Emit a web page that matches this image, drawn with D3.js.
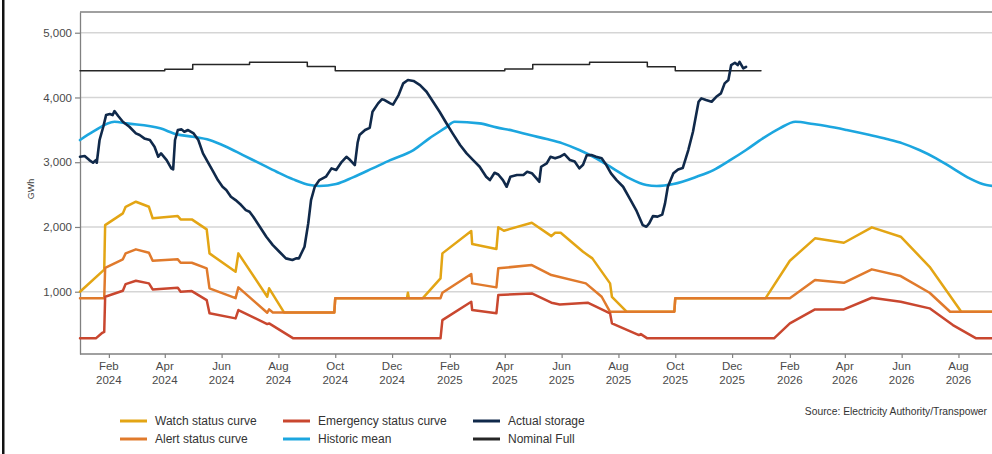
<!DOCTYPE html>
<html><head><meta charset="utf-8">
<script src="https://cdn.jsdelivr.net/npm/d3@7"></script>
<style>
html,body{margin:0;padding:0;background:#fff;overflow:hidden;}
svg{display:block;font-family:"Liberation Sans",Arial,Helvetica,sans-serif;}
</style></head><body>
<svg id="chart" width="992" height="454"></svg>
<script>
// ---------------- DATA ----------------
const yTickValues = [1000, 2000, 3000, 4000, 5000];
const xTickLabels = ["Feb 2024","Apr 2024","Jun 2024","Aug 2024","Oct 2024","Dec 2024","Feb 2025","Apr 2025","Jun 2025","Aug 2025","Oct 2025","Dec 2025","Feb 2026","Apr 2026","Jun 2026","Aug 2026"];
const seriesNames = ["Watch status curve","Alert status curve","Emergency status curve","Historic mean","Actual storage","Nominal Full"];

const watchCurve = [
["2024-01-01",1000],["2024-01-27",1340],["2024-01-28",2029],["2024-02-16",2210],["2024-02-19",2312],["2024-03-01",2390],
["2024-03-15",2312],["2024-03-19",2133],["2024-04-15",2168],["2024-04-18",2117],["2024-04-30",2117],["2024-05-16",1963],
["2024-05-19",1592],["2024-06-16",1308],["2024-06-19",1592],["2024-07-20",922],["2024-07-22",1052],["2024-08-07",680],
["2024-09-30",680],["2024-10-01",900],["2024-12-17",900],["2024-12-18",984],["2024-12-19",900],["2025-01-03",900],
["2025-01-22",1206],["2025-01-24",1592],["2025-02-24",1937],["2025-02-25",1736],["2025-03-23",1659],["2025-03-25",1994],
["2025-03-31",1942],["2025-04-30",2065],["2025-05-21",1859],["2025-05-25",1911],["2025-05-31",1911],["2025-06-24",1617],
["2025-07-04",1515],["2025-07-23",1129],["2025-07-25",922],["2025-08-10",690],["2025-09-30",690],["2025-10-01",900],
["2026-01-06",900],["2026-02-01",1478],["2026-02-28",1824],["2026-03-31",1756],["2026-04-30",1994],["2026-05-31",1849],
["2026-07-01",1385],["2026-08-04",690],["2026-10-01",690]
];
const alertCurve = [
["2024-01-01",900],["2024-01-27",900],["2024-01-28",1370],["2024-02-16",1500],["2024-02-19",1592],["2024-03-01",1654],
["2024-03-15",1602],["2024-03-19",1478],["2024-04-15",1500],["2024-04-18",1447],["2024-04-30",1447],["2024-05-16",1361],
["2024-05-19",1052],["2024-06-16",900],["2024-06-19",1067],["2024-07-20",675],["2024-07-22",727],["2024-07-26",680],
["2024-09-30",680],["2024-10-01",900],["2025-01-22",900],["2025-01-24",984],["2025-02-24",1273],["2025-02-25",1129],
["2025-03-23",1067],["2025-03-25",1361],["2025-04-30",1412],["2025-05-21",1257],["2025-06-27",1129],["2025-07-14",922],
["2025-07-23",690],["2025-09-30",690],["2025-10-01",900],["2026-02-01",900],["2026-02-28",1180],["2026-03-31",1138],
["2026-04-30",1345],["2026-05-31",1242],["2026-07-01",984],["2026-07-23",690],["2026-10-01",690]
];
const emergencyCurve = [
["2024-01-01",280],["2024-01-18",280],["2024-01-25",366],["2024-01-27",380],["2024-01-28",922],["2024-02-16",1015],
["2024-02-19",1118],["2024-03-01",1169],["2024-03-15",1129],["2024-03-19",1036],["2024-04-15",1061],["2024-04-18",1000],
["2024-04-30",1010],["2024-05-16",871],["2024-05-19",666],["2024-06-16",588],["2024-06-19",717],["2024-07-20",500],
["2024-07-22",510],["2024-08-17",280],["2025-01-22",280],["2025-01-24",562],["2025-02-24",845],["2025-02-25",717],
["2025-03-23",666],["2025-03-25",948],["2025-04-30",974],["2025-05-21",830],["2025-05-30",804],["2025-06-29",830],
["2025-07-23",666],["2025-07-25",511],["2025-08-23",331],["2025-08-25",345],["2025-09-01",280],["2026-01-15",280],
["2026-02-01",511],["2026-02-28",727],["2026-03-31",727],["2026-04-30",907],["2026-05-31",845],["2026-07-01",743],
["2026-07-26",485],["2026-08-20",280],["2026-10-01",280]
];
const historicMean = [
["2024-01-01",3343],["2024-01-15",3471],["2024-02-07",3625],["2024-02-20",3600],["2024-03-27",3523],["2024-04-14",3430],
["2024-05-01",3394],["2024-05-19",3343],["2024-06-06",3239],["2024-06-24",3110],["2024-07-12",2982],["2024-07-30",2853],
["2024-08-17",2735],["2024-09-04",2647],["2024-09-14",2632],["2024-10-02",2663],["2024-10-20",2766],["2024-11-10",2905],
["2024-11-29",3033],["2024-12-24",3188],["2025-01-10",3368],["2025-01-28",3538],["2025-02-06",3625],["2025-03-05",3600],
["2025-03-23",3538],["2025-04-10",3486],["2025-04-28",3419],["2025-05-16",3358],["2025-06-02",3291],["2025-06-20",3188],
["2025-07-08",3060],["2025-07-26",2905],["2025-08-13",2750],["2025-08-31",2647],["2025-09-11",2632],["2025-09-29",2663],
["2025-10-24",2776],["2025-11-11",2879],["2025-11-28",3023],["2025-12-16",3188],["2026-01-03",3368],["2026-01-21",3523],
["2026-02-07",3625],["2026-02-26",3589],["2026-03-12",3558],["2026-04-03",3497],["2026-04-28",3419],["2026-05-16",3358],
["2026-06-02",3291],["2026-06-20",3188],["2026-07-08",3060],["2026-07-26",2905],["2026-08-13",2750],["2026-08-31",2647],
["2026-09-11",2632],["2026-09-29",2663]
];
const actualStorage = [
["2024-01-01",3084],["2024-01-06",3095],["2024-01-11",3033],["2024-01-15",2992],["2024-01-18",3033],["2024-01-19",2992],
["2024-01-22",3343],["2024-01-26",3548],["2024-01-29",3728],["2024-02-02",3744],["2024-02-05",3728],["2024-02-07",3790],
["2024-02-11",3713],["2024-02-16",3625],["2024-02-23",3548],["2024-03-01",3445],["2024-03-05",3420],["2024-03-10",3368],
["2024-03-16",3343],["2024-03-21",3239],["2024-03-25",3084],["2024-03-28",3136],["2024-04-03",3033],["2024-04-08",2905],
["2024-04-10",2889],["2024-04-12",3343],["2024-04-15",3497],["2024-04-19",3507],["2024-04-22",3470],["2024-04-26",3497],
["2024-05-02",3445],["2024-05-07",3343],["2024-05-12",3136],["2024-05-18",2982],["2024-05-23",2853],["2024-05-28",2724],
["2024-06-02",2621],["2024-06-06",2570],["2024-06-11",2466],["2024-06-16",2415],["2024-06-22",2338],["2024-06-27",2261],
["2024-07-01",2235],["2024-07-05",2158],["2024-07-12",2003],["2024-07-19",1849],["2024-07-26",1720],["2024-08-02",1617],
["2024-08-09",1515],["2024-08-16",1489],["2024-08-20",1515],["2024-08-23",1515],["2024-08-29",1694],["2024-09-02",2055],
["2024-09-05",2415],["2024-09-09",2621],["2024-09-14",2724],["2024-09-21",2776],["2024-09-27",2905],["2024-10-02",2880],
["2024-10-08",3007],["2024-10-13",3084],["2024-10-17",3033],["2024-10-22",2956],["2024-10-25",3300],["2024-10-27",3419],
["2024-11-02",3497],["2024-11-07",3530],["2024-11-10",3779],["2024-11-16",3909],["2024-11-20",3971],["2024-11-23",3960],
["2024-11-29",3909],["2024-12-02",3890],["2024-12-08",4037],["2024-12-13",4218],["2024-12-18",4269],["2024-12-24",4255],
["2024-12-31",4192],["2025-01-07",4088],["2025-01-14",3934],["2025-01-21",3779],["2025-01-28",3609],["2025-02-04",3445],
["2025-02-12",3265],["2025-02-19",3136],["2025-02-26",3033],["2025-03-05",2930],["2025-03-12",2776],["2025-03-16",2724],
["2025-03-21",2837],["2025-03-25",2810],["2025-03-30",2724],["2025-04-03",2621],["2025-04-07",2776],["2025-04-14",2802],
["2025-04-21",2802],["2025-04-25",2853],["2025-04-30",2830],["2025-05-05",2750],["2025-05-08",2698],["2025-05-10",2930],
["2025-05-16",2982],["2025-05-20",3084],["2025-05-25",3060],["2025-05-30",3084],["2025-06-04",3126],["2025-06-10",3033],
["2025-06-15",3010],["2025-06-20",2905],["2025-06-24",2960],["2025-06-28",3110],["2025-07-03",3110],["2025-07-08",3084],
["2025-07-14",3060],["2025-07-19",2956],["2025-07-24",2828],["2025-07-30",2724],["2025-08-06",2621],["2025-08-13",2441],
["2025-08-20",2261],["2025-08-27",2029],["2025-08-31",2003],["2025-09-03",2055],["2025-09-07",2168],["2025-09-12",2160],
["2025-09-17",2190],["2025-09-20",2364],["2025-09-23",2621],["2025-09-29",2828],["2025-10-04",2889],["2025-10-09",2910],
["2025-10-15",3188],["2025-10-20",3471],["2025-10-26",3934],["2025-10-29",3986],["2025-11-03",3960],["2025-11-09",3934],
["2025-11-14",4010],["2025-11-19",4063],["2025-11-23",4218],["2025-11-27",4270],["2025-11-30",4500],["2025-12-04",4536],
["2025-12-07",4500],["2025-12-09",4551],["2025-12-13",4449],["2025-12-16",4474]
];
const nominalFull = [
["2024-01-01",4412],["2024-04-01",4435],["2024-05-01",4511],["2024-07-01",4542],["2024-09-01",4480],["2024-10-01",4412],
["2025-04-01",4440],["2025-05-01",4511],["2025-07-01",4542],["2025-09-01",4475],["2025-10-01",4412],["2026-01-01",4412]
];

// ---------------- CHART ----------------
const parse = d3.timeParse("%Y-%m-%d");
const svg = d3.select("#chart");
const L = 80, T = 12, B = 354, R = 992;

const x = d3.scaleTime().domain([parse("2024-01-01"), parse("2026-10-01")]).range([80, 1015.3]);
const y = d3.scaleLinear().domain([38, 5320]).range([B, T]);

const colors = {
  watch: "#e3a514", alert: "#e07a2c", emergency: "#c9472f",
  mean: "#1ca6df", actual: "#10294a", nominal: "#262626"
};

// left page border
svg.append("rect").attr("x", 2).attr("y", 0).attr("width", 2.5).attr("height", 454).attr("fill", "#111");

// gridlines
svg.append("g").selectAll("line").data(yTickValues).join("line")
  .attr("x1", L).attr("x2", R).attr("y1", d => y(d)).attr("y2", d => y(d))
  .attr("stroke", "#d5d5d5").attr("stroke-width", 1.5);

// frame top and bottom
svg.append("line").attr("x1", L).attr("x2", R).attr("y1", T).attr("y2", T).attr("stroke", "#808080").attr("stroke-width", 1.3);
svg.append("line").attr("x1", L).attr("x2", R).attr("y1", B).attr("y2", B).attr("stroke", "#808080").attr("stroke-width", 1.3);

// y axis
const yAxis = svg.append("g").attr("transform", `translate(${L},0)`)
  .call(d3.axisLeft(y).tickValues(yTickValues).tickFormat(d3.format(",")).tickSize(5).tickSizeOuter(0).tickPadding(3));
yAxis.select(".domain").attr("stroke", "#808080").attr("stroke-width", 1.3);
yAxis.selectAll(".tick line").attr("stroke", "#808080").attr("stroke-width", 1.2);
yAxis.selectAll(".tick text").attr("fill", "#4a4a4a").style("font-size", "11.5px").style("font-family", "Liberation Sans, Arial, sans-serif");

// x axis
const xTicks = xTickLabels.map(s => d3.timeParse("%b %Y")(s));
const xAxis = svg.append("g").attr("transform", `translate(0,${B})`)
  .call(d3.axisBottom(x).tickValues(xTicks).tickFormat("").tickSize(4).tickSizeOuter(0));
xAxis.select(".domain").remove();
xAxis.selectAll(".tick line").attr("stroke", "#808080").attr("stroke-width", 1.2);
const xl = svg.append("g").selectAll("text").data(xTickLabels).join("text")
  .attr("x", (d, i) => x(xTicks[i])).attr("y", 370)
  .attr("text-anchor", "middle").attr("fill", "#4a4a4a").style("font-size", "11.5px");
xl.append("tspan").attr("x", (d, i) => x(xTicks[i])).attr("dy", 0).text(d => d.split(" ")[0]);
xl.append("tspan").attr("x", (d, i) => x(xTicks[i])).attr("dy", 13.5).text(d => d.split(" ")[1]);

// y title
svg.append("text").attr("transform", "translate(34,189) rotate(-90)").attr("text-anchor", "middle")
  .attr("fill", "#444").style("font-size", "9px").text("GWh");

// lines
const plotG = svg.append("g");
const lineLin = d3.line().x(d => x(parse(d[0]))).y(d => y(d[1]));
const lineSmooth = d3.line().x(d => x(parse(d[0]))).y(d => y(d[1])).curve(d3.curveMonotoneX);
const lineStep = d3.line().x(d => x(parse(d[0]))).y(d => y(d[1])).curve(d3.curveStepAfter);

function draw(data, gen, color, w) {
  plotG.append("path").datum(data).attr("d", gen).attr("fill", "none")
    .attr("stroke", color).attr("stroke-width", w).attr("stroke-linejoin", "round").attr("stroke-linecap", "round");
}
draw(historicMean, lineSmooth, colors.mean, 2.6);
draw(nominalFull, lineStep, colors.nominal, 1.5);
draw(watchCurve, lineLin, colors.watch, 2.5);
draw(alertCurve, lineLin, colors.alert, 2.5);
draw(emergencyCurve, lineLin, colors.emergency, 2.5);
draw(actualStorage, lineLin, colors.actual, 2.6);

// legend
const legendItems = [
  {name: seriesNames[0], color: colors.watch, x: 120, y: 421},
  {name: seriesNames[1], color: colors.alert, x: 120, y: 439},
  {name: seriesNames[2], color: colors.emergency, x: 283, y: 421},
  {name: seriesNames[3], color: colors.mean, x: 283, y: 439},
  {name: seriesNames[4], color: colors.actual, x: 473, y: 421},
  {name: seriesNames[5], color: colors.nominal, x: 473, y: 439}
];
const lg = svg.append("g").selectAll("g").data(legendItems).join("g")
  .attr("transform", d => `translate(${d.x},${d.y})`);
lg.append("line").attr("x1", 0).attr("x2", 27).attr("stroke", d => d.color).attr("stroke-width", 3);
lg.append("text").attr("x", 35).attr("dy", "0.35em").attr("fill", "#333").style("font-size", "12px").text(d => d.name);

// source
svg.append("text").attr("x", 987).attr("y", 411).attr("dy", "0.35em").attr("text-anchor", "end")
  .attr("fill", "#333").style("font-size", "10.3px").text("Source: Electricity Authority/Transpower");
</script>
</body></html>
